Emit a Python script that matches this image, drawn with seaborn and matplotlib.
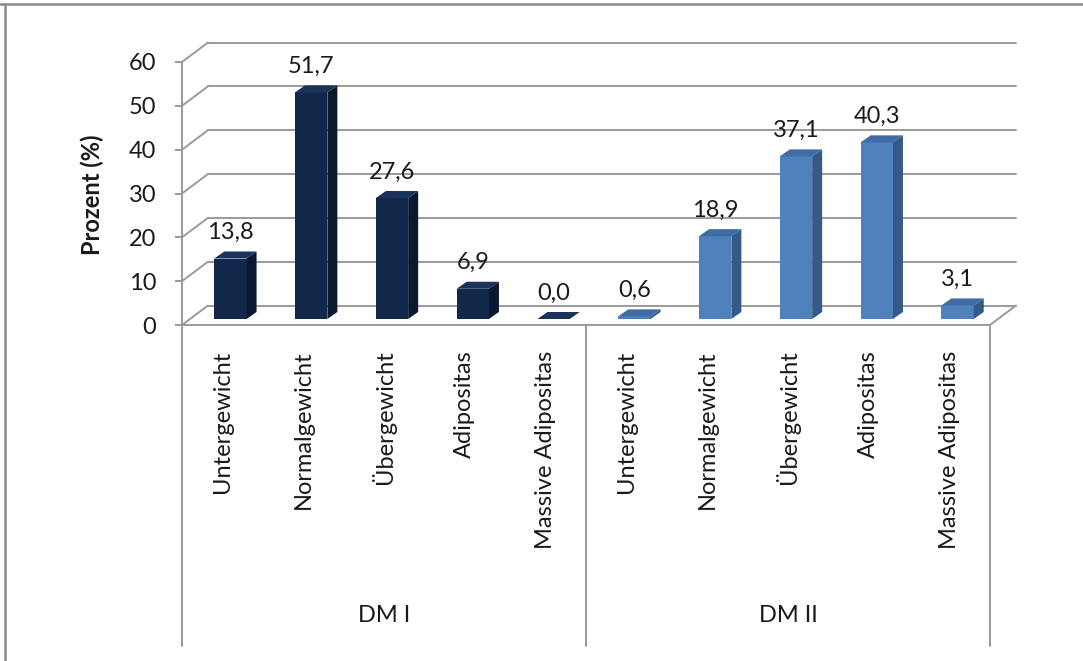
import matplotlib
matplotlib.use("Agg")
import matplotlib.pyplot as plt
import seaborn as sns
import pandas as pd
from matplotlib.patches import Polygon
from matplotlib.lines import Line2D

# --- data -------------------------------------------------------------
groups = ["DM I", "DM II"]
categories = ["Untergewicht", "Normalgewicht", "Übergewicht", "Adipositas", "Massive Adipositas"]
dm1_values = [13.8, 51.7, 27.6, 6.9, 0.0]
dm2_values = [0.6, 18.9, 37.1, 40.3, 3.1]
y_ticks = [0, 10, 20, 30, 40, 50, 60]

# --- style ------------------------------------------------------------
sns.set_theme(style="white")
plt.rcParams["font.family"] = ["Lato", "DejaVu Sans"]

FS = 17
front_col = {"DM I": "#12284A", "DM II": "#4F81BD"}
top_col = {"DM I": "#1A335A", "DM II": "#3F6CA3"}
side_col = {"DM I": "#0B1930", "DM II": "#365A88"}
grid_col = "#9a9a9a"
text_col = "#1a1a1a"

W, H = 1083, 661
fig = plt.figure(figsize=(W / 100, H / 100), dpi=100)
fig.patch.set_facecolor("white")
ax = fig.add_axes([182 / W, (H - 325) / H, 808 / W, 263 / H])
ax.set_facecolor("none")

df = pd.DataFrame({
    "slot": list(range(len(groups) * len(categories))),
    "group": [g for g in groups for _ in categories],
    "value": dm1_values + dm2_values,
})

sns.barplot(data=df, x="slot", y="value", hue="group", palette=front_col,
            dodge=False, width=0.4, saturation=1, legend=False,
            linewidth=0, ax=ax, zorder=3)

n = len(df)
ax.set_xlim(-0.5, n - 0.5)
ax.set_ylim(0, 60)

# pixel -> data conversion for the pseudo-3D offsets
sx = ax.bbox.width / n
sy = ax.bbox.height / 60.0


def px(dx, dy):
    return dx / sx, dy / sy


bx, by = px(26, 19.5)    # back wall offset
shx, shy = px(8, 6)      # bars stand halfway into the floor
ddx, ddy = px(10, 7)     # bar depth

# back wall gridlines and side wall diagonals
for v in y_ticks:
    ax.plot([-0.5 + bx, n - 0.5 + bx], [v + by, v + by], color=grid_col,
            lw=1.4, clip_on=False, zorder=1)
    ax.plot([-0.5, -0.5 + bx], [v, v + by], color=grid_col, lw=1.4,
            clip_on=False, zorder=1)
# right edge of the floor
ax.plot([n - 0.5, n - 0.5 + bx], [0, by], color=grid_col, lw=1.4,
        clip_on=False, zorder=1)

# spines
for s in ["top", "right"]:
    ax.spines[s].set_visible(False)
for s in ["left", "bottom"]:
    ax.spines[s].set_color(grid_col)
    ax.spines[s].set_linewidth(1.4)

# 3D faces + value labels
bars = sorted(ax.patches, key=lambda p: p.get_x())
for bar, row in zip(bars, df.itertuples()):
    g = row.group
    x0 = bar.get_x() + shx
    w = bar.get_width()
    h = row.value
    bar.set_x(x0)
    bar.set_y(shy)
    bar.set_height(h)
    x1 = x0 + w
    y0 = shy
    y1 = shy + h
    ax.add_patch(Polygon([(x0, y1), (x1, y1), (x1 + ddx, y1 + ddy), (x0 + ddx, y1 + ddy)],
                         closed=True, facecolor=top_col[g], edgecolor="none",
                         clip_on=False, zorder=3))
    ax.add_patch(Polygon([(x1, y0), (x1 + ddx, y0 + ddy), (x1 + ddx, y1 + ddy), (x1, y1)],
                         closed=True, facecolor=side_col[g], edgecolor="none",
                         clip_on=False, zorder=3))
    ax.annotate(f"{h:.1f}".replace(".", ","), xy=(x0 + w / 2, y1),
                xytext=(0, 26 * 0.72), textcoords="offset points",
                ha="center", va="center", fontsize=FS, color=text_col,
                annotation_clip=False)

# axes ticks
ax.set_yticks(y_ticks)
ax.set_yticklabels([str(t) for t in y_ticks])
ax.tick_params(axis="y", left=True, direction="out", length=5, width=1.4,
               color=grid_col, pad=13.5, labelsize=FS, labelcolor=text_col)
ax.set_xticks(range(n))
ax.set_xticklabels(categories * len(groups), rotation=90)
ax.tick_params(axis="x", bottom=False, length=0, pad=18.5, labelsize=FS,
               labelcolor=text_col)
ax.set_xlabel("")
ax.set_ylabel("Prozent (%)", fontsize=FS, fontweight="bold", color=text_col)
ax.yaxis.set_label_coords((104 - 182) / 808, (325 - 195) / 263)

# group separators and group names below the category labels
y_bottom = -(646 - 325) / sy
for xv in [-0.5, len(categories) - 0.5, n - 0.5]:
    ax.plot([xv, xv], [0, y_bottom], color=grid_col, lw=1.4, clip_on=False, zorder=1)
for k, g in enumerate(groups):
    ax.text(k * len(categories) + (len(categories) - 1) / 2, -(615 - 325) / sy, g,
            ha="center", va="center", fontsize=FS, color=text_col)

# chart frame
fig.add_artist(Line2D([0, 1], [1 - 4 / H, 1 - 4 / H], transform=fig.transFigure,
                      color="#8a8a8a", lw=1.8))
fig.add_artist(Line2D([5 / W, 5 / W], [0, 1 - 4 / H], transform=fig.transFigure,
                      color="#8a8a8a", lw=1.8))

fig.savefig("out.png", dpi=100)
